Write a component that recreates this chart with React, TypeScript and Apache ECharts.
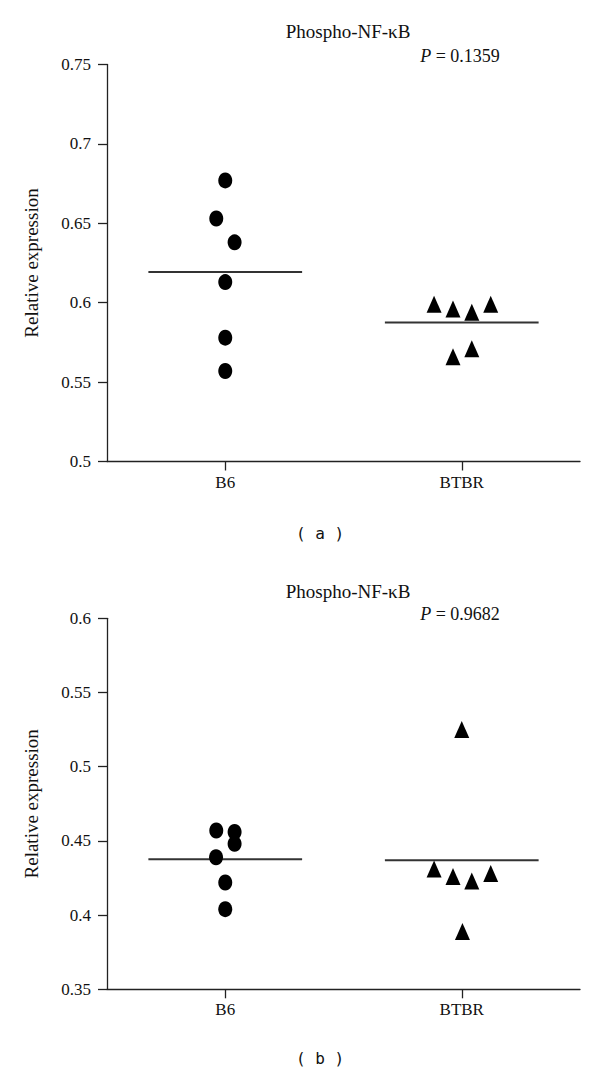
import React, { useEffect, useRef } from "react";
import * as echarts from "echarts";

const categories = ["B6", "BTBR"];
const categoryPositions = [1, 3];

// Panel (a)
const b6A = [0.677, 0.653, 0.638, 0.613, 0.578, 0.557];
const b6AJitter = [0, -0.076, 0.079, 0, 0, 0];
const btbrA = [0.599, 0.596, 0.594, 0.599, 0.566, 0.571];
const btbrAJitter = [-0.234, -0.074, 0.085, 0.245, -0.074, 0.085];
const yRangeA = [0.5, 0.75];
const pTextA = "0.1359";

// Panel (b)
const b6B = [0.457, 0.456, 0.448, 0.439, 0.422, 0.404];
const b6BJitter = [-0.076, 0.079, 0.079, -0.078, 0, 0];
const btbrB = [0.525, 0.431, 0.426, 0.423, 0.428, 0.389];
const btbrBJitter = [0, -0.234, -0.074, 0.085, 0.245, 0.006];
const yRangeB = [0.35, 0.6];
const pTextB = "0.9682";

const titleText = "Phospho-NF-\u03BAB";
const yName = "Relative expression";
const yInterval = 0.05;
const meanHalfWidth = 0.65;

const SERIF = "'Liberation Serif', 'DejaVu Serif', serif";

const mean = (a: number[]) => a.reduce((s, v) => s + v, 0) / a.length;
const pts = (vals: number[], jit: number[], c: number) =>
  vals.map((v, i) => [c + jit[i], v]);

export default function App() {
  const ref = useRef<HTMLDivElement>(null);
  useEffect(() => {
    if (!ref.current) return;
    const chart = echarts.init(ref.current, null, { renderer: "svg" });

    const xAxisBase = (gridIndex: number) => ({
      type: "value",
      gridIndex,
      min: 0,
      max: 4,
      interval: 1,
      splitLine: { show: false },
      axisLine: { show: true, lineStyle: { color: "#222", width: 1.3 } },
      axisTick: {
        show: true,
        length: 9,
        customValues: categoryPositions,
        lineStyle: { color: "#222", width: 1.3 },
      },
      axisLabel: {
        show: true,
        customValues: categoryPositions,
        formatter: (v: number) => {
          const i = categoryPositions.indexOf(Math.round(v));
          return i >= 0 ? categories[i] : "";
        },
        color: "#111",
        fontFamily: SERIF,
        fontSize: 17,
        margin: 12,
      },
    });

    const yAxisBase = (gridIndex: number, range: number[]) => ({
      type: "value",
      gridIndex,
      min: range[0],
      max: range[1],
      interval: yInterval,
      name: yName,
      nameLocation: "middle",
      nameGap: 66,
      nameTextStyle: { fontFamily: SERIF, fontSize: 19, color: "#111" },
      splitLine: { show: false },
      axisLine: { show: true, lineStyle: { color: "#222", width: 1.3 } },
      axisTick: { show: true, length: 9, lineStyle: { color: "#222", width: 1.3 } },
      axisLabel: {
        color: "#111",
        fontFamily: SERIF,
        fontSize: 17,
        margin: 16,
      },
    });

    const scatter = (
      idx: number,
      vals: number[],
      jit: number[],
      c: number,
      symbol: string,
      size: number[]
    ) => ({
      type: "scatter",
      xAxisIndex: idx,
      yAxisIndex: idx,
      symbol,
      symbolSize: size,
      itemStyle: { color: "#000", opacity: 1 },
      data: pts(vals, jit, c),
      z: 3,
    });

    const meanLine = (idx: number, vals: number[], c: number) => ({
      type: "line",
      xAxisIndex: idx,
      yAxisIndex: idx,
      symbol: "none",
      lineStyle: { color: "#333", width: 2 },
      data: [
        [c - meanHalfWidth, mean(vals)],
        [c + meanHalfWidth, mean(vals)],
      ],
      z: 1,
    });

    const circleSize = [14, 16];
    const triSize = [15, 17];

    const pLabel = (y: number, value: string) => ({
      type: "text",
      x: 460,
      y,
      style: {
        text: "{i|P} = " + value,
        textAlign: "center",
        textVerticalAlign: "middle",
        font: "18px " + SERIF,
        fill: "#111",
        rich: {
          i: { fontStyle: "italic", fontFamily: SERIF, fontSize: 18, fill: "#111" },
        },
      },
    });

    const titleLabel = (y: number) => ({
      type: "text",
      x: 348,
      y,
      style: {
        text: titleText,
        textAlign: "center",
        textVerticalAlign: "middle",
        font: "19px " + SERIF,
        fill: "#111",
      },
    });

    const panelLabel = (y: number, t: string) => ({
      type: "text",
      x: 320,
      y,
      style: {
        text: t,
        textAlign: "center",
        textVerticalAlign: "middle",
        font: "16px 'DejaVu Sans Mono', monospace",
        fill: "#111",
      },
    });

    chart.setOption({
      animation: false,
      backgroundColor: "#fff",
      grid: [
        { left: 107, top: 64.5, width: 473, height: 397 },
        { left: 107, top: 618.3, width: 473, height: 371 },
      ],
      xAxis: [xAxisBase(0), xAxisBase(1)],
      yAxis: [yAxisBase(0, yRangeA), yAxisBase(1, yRangeB)],
      series: [
        meanLine(0, b6A, categoryPositions[0]),
        meanLine(0, btbrA, categoryPositions[1]),
        scatter(0, b6A, b6AJitter, categoryPositions[0], "circle", circleSize),
        scatter(0, btbrA, btbrAJitter, categoryPositions[1], "triangle", triSize),
        meanLine(1, b6B, categoryPositions[0]),
        meanLine(1, btbrB, categoryPositions[1]),
        scatter(1, b6B, b6BJitter, categoryPositions[0], "circle", circleSize),
        scatter(1, btbrB, btbrBJitter, categoryPositions[1], "triangle", triSize),
      ],
      graphic: [
        titleLabel(31),
        pLabel(56, pTextA),
        panelLabel(533, "( a )"),
        titleLabel(591),
        pLabel(614, pTextB),
        panelLabel(1058, "( b )"),
      ],
    });

    return () => chart.dispose();
  }, []);

  return (
    <div
      ref={ref}
      style={{ position: "absolute", left: 0, top: 0, width: 600, height: 1077 }}
    />
  );
}
